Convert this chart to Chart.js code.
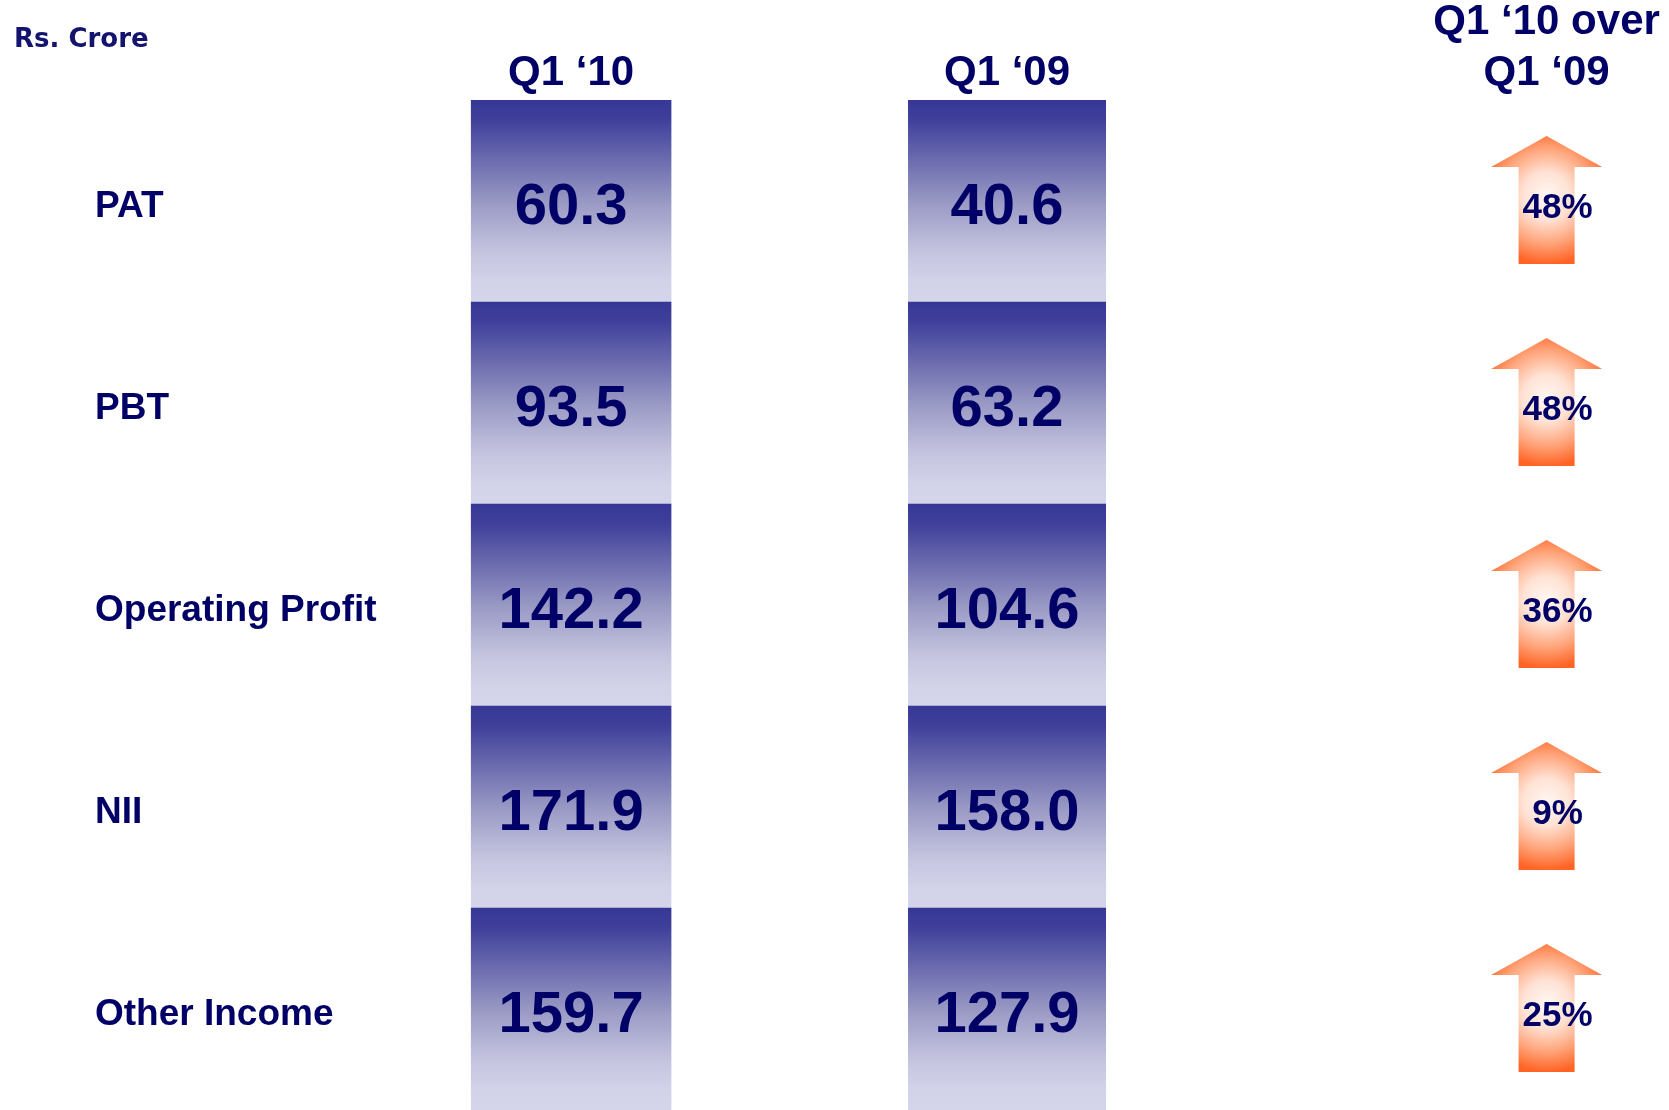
<!DOCTYPE html>
<html lang="en">
<head>
<meta charset="UTF-8">
<title>Rs. Crore – Q1 ‘10 vs Q1 ‘09</title>
<script src="https://cdn.jsdelivr.net/npm/chart.js"></script>
<style>
html,body{margin:0;padding:0;background:#fff}
canvas{display:block}
</style>
</head>
<body>
<canvas id="summaryChart" width="1669" height="1110"></canvas>

<script>
/* --- Data --- */
const categories = ['PAT', 'PBT', 'Operating Profit', 'NII', 'Other Income'];
const q1_10 = [60.3, 93.5, 142.2, 171.9, 159.7];
const q1_09 = [40.6, 63.2, 104.6, 158.0, 127.9];
const growthPct = [48, 48, 36, 9, 25];
const columnLabels = ['Q1 ‘10', 'Q1 ‘09', ['Q1 ‘10 over', 'Q1 ‘09']];
const unitLabel = 'Rs. Crore';

/* --- Layout: column spans in x-scale units (0..10) --- */
const COL_CUR = [0.41, 2.01], COL_PREV = [3.91, 5.49], COL_CHANGE = 9.02;
const NAVY = '#000066';
const FONT = '"Liberation Sans", Arial, Helvetica, sans-serif';
const mid = r => (r[0] + r[1]) / 2;

Chart.defaults.font.family = FONT;

function boxGradient(c){
    const {chart, dataIndex} = c;
    const y = chart.scales.y;
    if(!chart.chartArea || !y || dataIndex === undefined) return '#9898c4';
    const cy = y.getPixelForValue(dataIndex), h = y.height / categories.length;
    if(!isFinite(cy) || !isFinite(h) || h <= 0) return '#9898c4';
    const g = chart.ctx.createLinearGradient(0, cy - h/2, 0, cy + h/2);
    g.addColorStop(0, '#363696');
    g.addColorStop(0.1, '#40409b');
    g.addColorStop(0.5, '#9898c4');
    g.addColorStop(0.75, '#c4c4df');
    g.addColorStop(0.9, '#d2d2e9');
    g.addColorStop(1, '#d4d4eb');
    return g;
}

/* --- Value text in each box --- */
const cellText = {
    id: 'cellText',
    afterDatasetsDraw(chart){
        const ctx = chart.ctx;
        ctx.save();
        ctx.fillStyle = NAVY; ctx.textAlign = 'center'; ctx.textBaseline = 'middle';
        ctx.font = `bold 58px ${FONT}`;
        chart.data.datasets.forEach((ds, di) => {
            chart.getDatasetMeta(di).data.forEach((bar, i) => {
                const p = bar.getCenterPoint();
                ctx.fillText(ds.values[i].toFixed(1), p.x, p.y + 7);
            });
        });
        ctx.restore();
    }
};

/* --- Growth arrows --- */
const growthArrows = {
    id: 'growthArrows',
    afterDatasetsDraw(chart){
        const ctx = chart.ctx, xs = chart.scales.x, ys = chart.scales.y;
        const cx = xs.getPixelForValue(COL_CHANGE);
        growthPct.forEach((pct, i) => {
            const cy = ys.getPixelForValue(i) - 1;
            ctx.save();
            ctx.beginPath();
            ctx.moveTo(cx, cy - 64);
            ctx.lineTo(cx + 55.5, cy - 33);
            ctx.lineTo(cx + 28, cy - 33);
            ctx.lineTo(cx + 28, cy + 64);
            ctx.lineTo(cx - 28, cy + 64);
            ctx.lineTo(cx - 28, cy - 33);
            ctx.lineTo(cx - 55.5, cy - 33);
            ctx.closePath();
            const g = ctx.createRadialGradient(cx, cy - 4, 0, cx, cy - 4, 68);
            g.addColorStop(0, '#fff7f3');
            g.addColorStop(0.35, '#ffe2d4');
            g.addColorStop(0.7, '#ffa47a');
            g.addColorStop(1, '#ff6424');
            ctx.fillStyle = g;
            ctx.fill();
            ctx.fillStyle = NAVY; ctx.textAlign = 'center'; ctx.textBaseline = 'middle';
            ctx.font = `bold 35px ${FONT}`;
            ctx.fillText(pct + '%', cx + 11, cy + 8);
            ctx.restore();
        });
    }
};

/* --- Unit note top-left --- */
const unitNote = {
    id: 'unitNote',
    afterDraw(chart){
        const ctx = chart.ctx;
        ctx.save();
        ctx.fillStyle = '#14146e'; ctx.textAlign = 'left'; ctx.textBaseline = 'middle';
        ctx.font = 'bold 26px "DejaVu Sans", Verdana, sans-serif';
        ctx.fillText(unitLabel, 14, 40);
        ctx.restore();
    }
};

new Chart(document.getElementById('summaryChart'), {
    type: 'bar',
    data: {
        labels: categories,
        datasets: [
            {label: 'Q1 ‘10', data: categories.map(() => COL_CUR), values: q1_10,
             backgroundColor: boxGradient, borderWidth: 0, barPercentage: 1, categoryPercentage: 1},
            {label: 'Q1 ‘09', data: categories.map(() => COL_PREV), values: q1_09,
             backgroundColor: boxGradient, borderWidth: 0, barPercentage: 1, categoryPercentage: 1}
        ]
    },
    options: {
        indexAxis: 'y',
        grouped: false,
        responsive: false,
        animation: false,
        layout: {padding: {left: 95, top: 0, right: 0, bottom: 0}},
        scales: {
            y: {
                position: 'left',
                grid: {display: false, drawTicks: false}, border: {display: false},
                ticks: {crossAlign: 'far', color: NAVY, padding: 0, labelOffset: 6,
                        font: {size: 37, weight: 'bold'}},
                afterFit(s){ s.width = 325; s.paddingTop = 0; s.paddingBottom = 0; }
            },
            x: {
                type: 'linear', position: 'top', min: 0, max: 10,
                grid: {display: false, drawTicks: false}, border: {display: false},
                afterBuildTicks(s){
                    s.ticks = [{value: mid(COL_CUR)}, {value: mid(COL_PREV)}, {value: COL_CHANGE}];
                },
                ticks: {autoSkip: false, maxRotation: 0, color: NAVY, padding: 1,
                        font: {size: 42, weight: 'bold', lineHeight: 1.22},
                        callback: (v, i) => columnLabels[i]},
                afterFit(s){ s.height = 100; s.paddingLeft = 0; s.paddingRight = 0; }
            }
        },
        plugins: {legend: {display: false}, tooltip: {enabled: false}}
    },
    plugins: [cellText, growthArrows, unitNote]
});
</script>
</body>
</html>
